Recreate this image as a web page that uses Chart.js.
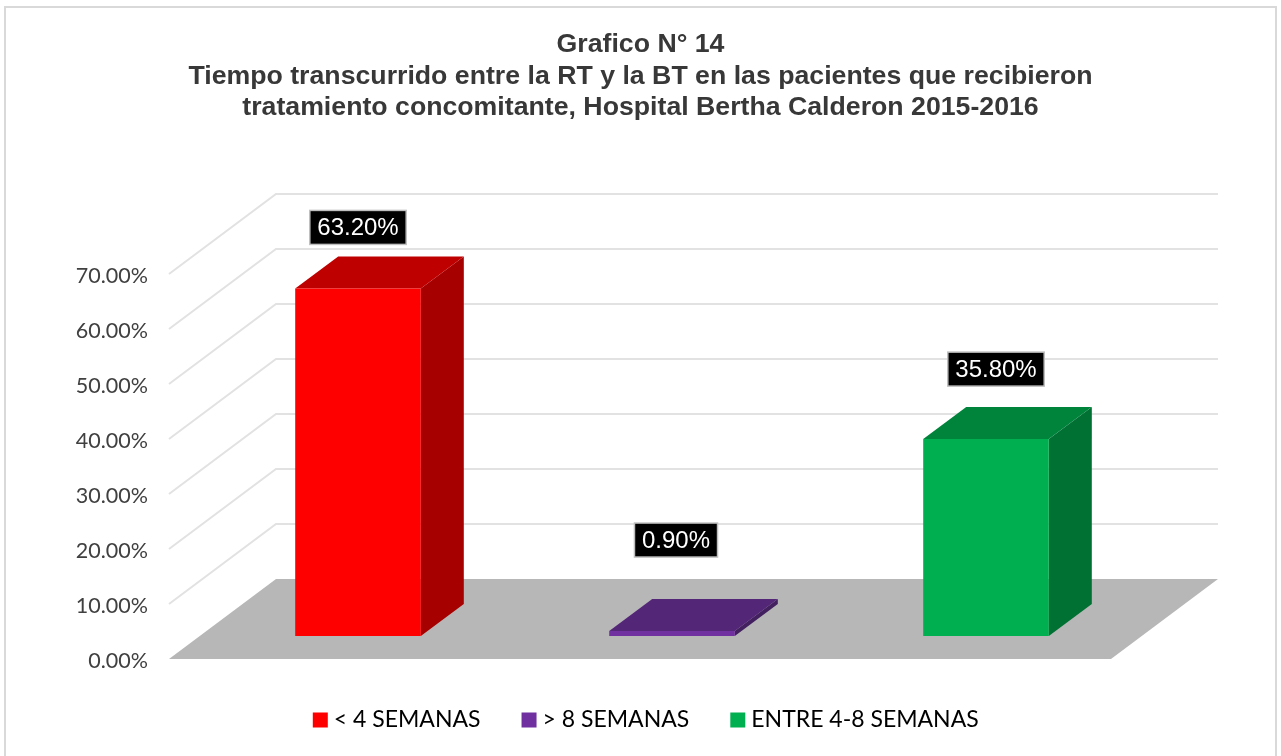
<!DOCTYPE html>
<html>
<head>
<meta charset="utf-8">
<style>html,body{margin:0;padding:0;background:#fff;overflow:hidden}#w{position:relative;width:1281px;height:756px}</style>
<script src="https://cdn.jsdelivr.net/npm/chart.js@4"></script>
</head>
<body>
<div id="w"><canvas id="c" width="1281" height="756"></canvas></div>
<script>
const categories = ['< 4 SEMANAS', '> 8 SEMANAS', 'ENTRE 4-8 SEMANAS'];
const values = [63.2, 0.9, 35.8];
const valueLabels = ['63.20%', '0.90%', '35.80%'];
const titleLines = ['Grafico N° 14', 'Tiempo transcurrido entre la RT y la BT en las pacientes que recibieron', 'tratamiento concomitante, Hospital Bertha Calderon 2015-2016'];
const frontColors = ['#FF0000', '#7030A0', '#00B050'];
const topColors = ['#BF0000', '#542678', '#00843C'];
const sideColors = ['#A60000', '#43205F', '#007033'];

const labelShift = [[0, -61], [4, -91], [10, -70]];
const FLOOR = {dx: 107, dy: -80};
const BAR_SHIFT = {dx: 32, dy: -23};
const BAR_DEPTH = {dx: 43, dy: -32};

const scene = {
  id: 'scene',
  afterLayout(chart) {
    chart.legend.left += 8;
    chart.legend.right += 8;
  },
  beforeDraw(chart) {
    const {ctx} = chart;
    ctx.save();
    ctx.strokeStyle = '#d9d9d9';
    ctx.lineWidth = 2;
    ctx.strokeRect(5, 7, 1271, 760);
    ctx.restore();
  },
  beforeDatasetsDraw(chart) {
    const {ctx, chartArea: a, scales: {y}} = chart;
    ctx.save();
    ctx.strokeStyle = '#e2e2e2';
    ctx.lineWidth = 2;
    y.ticks.forEach(t => {
      const py = y.getPixelForValue(t.value);
      if (t.value === 0) return;
      ctx.beginPath();
      ctx.moveTo(a.left, py);
      ctx.lineTo(a.left + FLOOR.dx, py + FLOOR.dy);
      ctx.lineTo(a.right + FLOOR.dx, py + FLOOR.dy);
      ctx.stroke();
    });
    const b = y.getPixelForValue(0);
    ctx.fillStyle = '#b7b7b7';
    ctx.beginPath();
    ctx.moveTo(a.left, b);
    ctx.lineTo(a.left + FLOOR.dx, b + FLOOR.dy);
    ctx.lineTo(a.right + FLOOR.dx, b + FLOOR.dy);
    ctx.lineTo(a.right, b);
    ctx.closePath();
    ctx.fill();
    ctx.translate(BAR_SHIFT.dx, BAR_SHIFT.dy);
    chart.getDatasetMeta(0).data.forEach((el, i) => {
      const {x, y: top, base, width} = el.getProps(['x', 'y', 'base', 'width'], true);
      const l = x - width / 2, r = x + width / 2;
      ctx.fillStyle = sideColors[i];
      ctx.beginPath();
      ctx.moveTo(r, top);
      ctx.lineTo(r + BAR_DEPTH.dx, top + BAR_DEPTH.dy);
      ctx.lineTo(r + BAR_DEPTH.dx, base + BAR_DEPTH.dy);
      ctx.lineTo(r, base);
      ctx.closePath();
      ctx.fill();
      ctx.fillStyle = topColors[i];
      ctx.beginPath();
      ctx.moveTo(l, top);
      ctx.lineTo(r, top);
      ctx.lineTo(r + BAR_DEPTH.dx, top + BAR_DEPTH.dy);
      ctx.lineTo(l + BAR_DEPTH.dx, top + BAR_DEPTH.dy);
      ctx.closePath();
      ctx.fill();
    });
  },
  afterDatasetsDraw(chart) {
    const {ctx} = chart;
    ctx.restore();
    ctx.save();
    ctx.font = '24px "Liberation Sans"';
    ctx.textAlign = 'center';
    ctx.textBaseline = 'middle';
    chart.getDatasetMeta(0).data.forEach((el, i) => {
      const {x, y: top} = el.getProps(['x', 'y'], true);
      const cx = x + BAR_SHIFT.dx + labelShift[i][0];
      const cy = top + BAR_SHIFT.dy + labelShift[i][1];
      const w = ctx.measureText(valueLabels[i]).width + 15;
      const h = 34;
      ctx.fillStyle = '#000';
      ctx.strokeStyle = '#bfbfbf';
      ctx.lineWidth = 1.5;
      ctx.fillRect(cx - w / 2, cy - h / 2, w, h);
      ctx.strokeRect(cx - w / 2, cy - h / 2, w, h);
      ctx.fillStyle = '#fff';
      ctx.fillText(valueLabels[i], cx, cy + 1);
    });
    ctx.restore();
  }
};

new Chart(document.getElementById('c'), {
  type: 'bar',
  data: {
    labels: categories,
    datasets: [{
      data: values,
      backgroundColor: frontColors,
      borderWidth: 0,
      categoryPercentage: 1,
      barPercentage: 0.4,
      clip: false
    }]
  },
  plugins: [scene],
  options: {
    responsive: false,
    animation: false,
    layout: {padding: {bottom: 14.5}},
    plugins: {
      tooltip: {enabled: false},
      title: {
        display: true,
        text: titleLines,
        color: '#383838',
        font: {family: '"Liberation Sans"', size: 26.7, weight: 'bold', lineHeight: 1.18},
        padding: {top: 29.25, bottom: 150.25}
      },
      legend: {
        position: 'bottom',
        labels: {
          font: {family: 'Lato', size: 23},
          color: '#111111',
          boxWidth: 4,
          boxHeight: 4,
          padding: 46.5,
          generateLabels: () => categories.map((t, i) => ({
            text: t, fillStyle: frontColors[i], strokeStyle: frontColors[i], lineWidth: 11, index: i
          }))
        }
      }
    },
    scales: {
      x: {
        type: 'category',
        grid: {display: false, drawTicks: false},
        border: {display: false},
        ticks: {display: false},
        afterFit(s) { s.height = 3; }
      },
      y: {
        min: 0, max: 70,
        grid: {display: false, drawTicks: false},
        border: {display: false},
        ticks: {
          stepSize: 10,
          padding: 21,
          labelOffset: 2,
          color: '#404040',
          font: {family: 'Lato', size: 21.5},
          callback: v => v.toFixed(2) + '%'
        },
        afterFit(s) { s.width = 169; }
      },
      yRight: {
        position: 'right',
        display: true,
        grid: {display: false, drawTicks: false},
        border: {display: false},
        ticks: {display: false},
        afterFit(s) { s.width = 170; }
      }
    }
  }
});
</script>
</body>
</html>
